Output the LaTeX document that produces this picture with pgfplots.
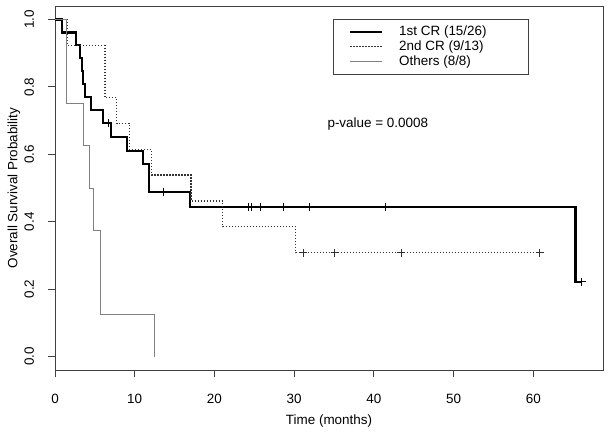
\documentclass[border=0pt]{standalone}
\usepackage{fontspec}
\setmainfont{Liberation Sans}
\usepackage{pgfplots}
\pgfplotsset{compat=1.18}
\newcommand{\fs}{\fontsize{13.5}{16}\selectfont}
\begin{document}
\begin{tikzpicture}[x=1bp,y=1bp]
\path[use as bounding box] (0,0) rectangle (610,432);
\begin{axis}[
  at={(55bp,62bp)}, anchor=south west,
  scale only axis, width=548bp, height=364bp,
  xmin=0, xmax=68.75, ymin=-0.04, ymax=1.04,
  xtick={0,10,20,30,40,50,60}, ytick={0,0.2,0.4,0.6,0.8,1.0},
  tick align=outside, major tick length=7bp,
  xtick pos=bottom, ytick pos=left,
  axis line style={black!75, line width=0.8bp},
  every tick/.style={black!75, line width=0.8bp},
  /pgf/number format/assume math mode=true,
  yticklabel style={/pgf/number format/fixed, /pgf/number format/fixed zerofill, /pgf/number format/precision=1},
  xticklabel style={font=\fs, anchor=base, inner sep=0pt, yshift=-26.8bp},
  yticklabel style={font=\fs, xshift=-14.2bp, rotate=90, anchor=base, inner sep=0pt},
  xlabel={Time (months)}, ylabel={Overall Survival Probability},
  xlabel style={font=\fs, at={(axis description cs:0.5,-0.140)}, anchor=center},
  ylabel style={font=\fs, at={(axis description cs:-0.0748,0.5)}, anchor=center},
  legend image code/.code={\draw[#1] (0bp,0bp) -- (32bp,0bp);},
  legend cell align=left,
  legend style={at={(rel axis cs:0.5073,0.9643)}, anchor=north west,
    draw=black!75, line width=0.6bp, font=\fs,
    inner xsep=16bp, inner ysep=6bp,
    nodes={inner sep=0pt, text height=10bp, text depth=3bp},
    /tikz/every odd column/.append style={column sep=15.7bp},
    row sep=2bp},
]
% 1st CR
\addplot[const plot, black, line width=2.2bp] coordinates {
(0,1) (0.84,0.9615) (2.63,0.9231) (3.14,0.8846) (3.35,0.8462) (3.55,0.8077)
(3.76,0.7692) (4.52,0.7308) (6.06,0.6923) (7.03,0.6516) (9.07,0.6109)
(11.0,0.5701) (11.84,0.4887) (16.94,0.4443) (65.3,0.2221) (66.1,0.2221)};
\addlegendentry{\makebox[113bp][l]{1st CR (15/26)}}
% 2nd CR
\addplot[const plot, black!80, line width=1.1bp, dash pattern=on 1.1bp off 1.9bp] coordinates {
(0,1) (1.57,0.9231) (6.27,0.7692) (7.74,0.6923) (9.33,0.6154) (12.13,0.5385)
(17.06,0.4615) (21.04,0.3846) (30.2,0.3077) (60.8,0.3077)};
\addlegendentry{2nd CR (9/13)}
% Others
\addplot[const plot, black!50, line width=1bp] coordinates {
(0,1) (1.47,0.75) (3.55,0.625) (4.27,0.5) (4.8,0.375) (5.73,0.125) (12.46,0)};
\addlegendentry{Others (8/8)}
% censor marks
\addplot[only marks, mark=+, mark size=4bp, mark options={black, line width=0.8bp}, forget plot] coordinates {
(6.69,0.6923) (13.6,0.4887) (24.2,0.4443) (24.6,0.4443) (25.8,0.4443)
(28.6,0.4443) (31.9,0.4443) (41.4,0.4443) (66.1,0.2221)};
\addplot[only marks, mark=+, mark size=4bp, mark options={black!80, line width=0.8bp}, forget plot] coordinates {
(31.1,0.3077) (35.1,0.3077) (43.4,0.3077) (60.8,0.3077)};
\node[font=\fs, anchor=center] at (axis cs:40.5,0.689) {p-value = 0.0008};
\end{axis}
\end{tikzpicture}
\end{document}
